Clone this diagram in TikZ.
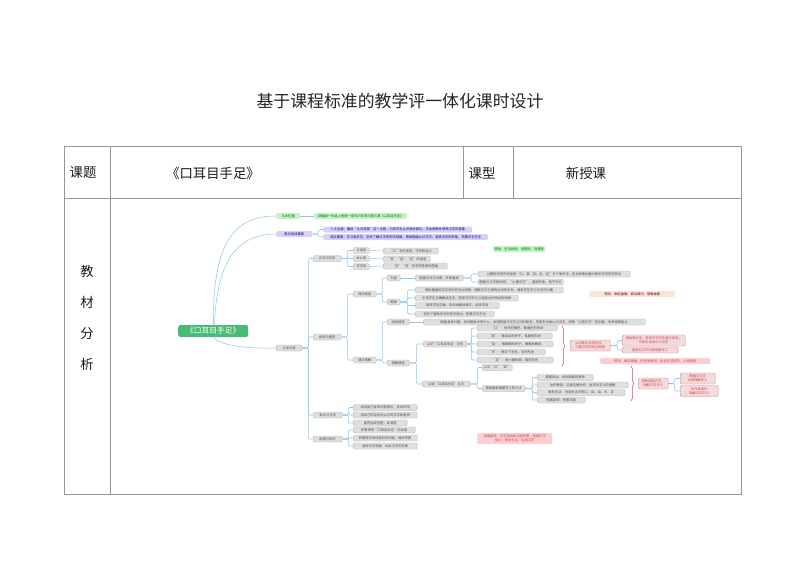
\documentclass[tikz,border=0pt]{standalone}
\usepackage{fontspec}
\setmainfont{Noto Sans CJK SC}
\usetikzlibrary{positioning,decorations.pathreplacing}
\definecolor{tablecolor}{RGB}{150,150,150}
\definecolor{linkcolor}{RGB}{142,198,238}
\definecolor{greycolor}{RGB}{223,223,223}
\definecolor{greyedge}{RGB}{176,176,176}
\definecolor{rootcolor}{RGB}{74,187,118}
\definecolor{greencolor}{RGB}{196,242,196}
\definecolor{purplecolor}{RGB}{214,209,247}
\definecolor{redcolor}{RGB}{214,66,78}
\definecolor{redfillcolor}{RGB}{241,219,220}
\definecolor{pinkcolor}{RGB}{252,207,212}
\definecolor{orangecolor}{RGB}{252,229,206}
\tikzset{
  tableln/.style={draw=tablecolor, line width=0.7pt},
  titletext/.style={font=\fontsize{14.4}{16}\selectfont, text=black!85},
  celltext/.style={font=\fontsize{11.4}{13}\selectfont, text=black!90},
  link/.style={draw=linkcolor, line width=0.45pt, rounded corners=1.2pt},
  mapnode/.style={anchor=west, rounded corners=1.2pt, inner xsep=0.5pt, inner ysep=0pt,
    minimum width=#1*0.3mm, minimum height=1.8mm, align=center,
    font=\fontsize{2.8}{3.4}\selectfont},
  greybox/.style={mapnode=#1, fill=greycolor, draw=greyedge, line width=0.3pt, text=black!70},
  rootbox/.style={mapnode=#1, fill=rootcolor, text=white, minimum height=3.6mm,
    rounded corners=2pt, font=\fontsize{6.6}{7}\selectfont},
  greenbox/.style={mapnode=#1, fill=greencolor, text=green!45!black},
  purplebox/.style={mapnode=#1, fill=purplecolor, text=blue!50!black},
  redbox/.style={mapnode=#1, fill=redfillcolor, draw=redcolor!70, line width=0.3pt, text=redcolor},
  pinkbox/.style={mapnode=#1, fill=pinkcolor, text=redcolor},
  orangebox/.style={mapnode=#1, fill=orangecolor, text=violet!70!black},
  twoline/.style={minimum height=3.3mm},
  redbrace/.style={draw=redcolor, line width=0.45pt, decorate, decoration={brace, amplitude=2.4pt}},
}
\newcommand{\mapbranch}[3]{%
  \foreach \kid in {#3} \draw[link] (#1.east) -- ++(#2,0) |- (\kid.west);
}

\begin{document}
\begin{tikzpicture}[x=0.3mm, y=-0.3mm]
  \useasboundingbox (0,0) rectangle (800,566);
  % heading and table frame
  \node[titletext] (title) at (400,101) {基于课程标准的教学评一体化课时设计};
  \draw[tableln] (64,146) rectangle (741,494);
  \draw[tableln] (64,198) -- (741,198);
  \draw[tableln] (110,146) -- (110,494);
  \draw[tableln] (463,146) -- (463,198);
  \draw[tableln] (513,146) -- (513,198);
  \node[celltext] (topiclabel) at (83,173) {课题};
  \node[celltext] (topicname) at (213,173) {《口耳目手足》};
  \node[celltext] (typelabel) at (482,173) {课型};
  \node[celltext] (typename) at (586,173) {新授课};
  \node[celltext, align=center, font=\fontsize{11.4}{26.4}\selectfont] (analysis) at (87,318) {教\\材\\分\\析};

  % mind map, first level
  \node[rootbox=70] (book) at (178,331) {《口耳目手足》};
  \node[greenbox=24] (place) at (276,216) {文本位置};
  \node[purplebox=36] (dual) at (276,234) {单元双线要素};
  \node[greybox=26] (content) at (276,348) {文本内容};
  \draw[link] (book.north) .. controls (213,245) and (232,216) .. (place.west);
  \draw[link] ([xshift=1pt]book.north) .. controls (217,262) and (236,234) .. (dual.west);
  \draw[link] (book.south) .. controls (219,345) and (245,349) .. (content.west);

  \node[greenbox=93] (placeleaf) at (314,216) {部编版一年级上册第一单元识字单元第三课《口耳目手足》};
  \draw[link] (place.east) -- (placeleaf.west);
  \node[purplebox=149] (theme) at (323,229.5) {人文主题：围绕“认识自我”这一主题，引导学生认识身体部位，学会观察并感受汉字的有趣};
  \node[purplebox=165] (skill) at (323,237) {语文要素：学习象形字，初步了解汉字的构字规律，借助图画认识汉字，感受汉字的形象，积累识字方法};
  \mapbranch{dual}{6}{theme,skill}
  \node[greenbox=52] (predict) at (493,249) {预测：生活经验、说明性、合理性};

  % text content
  \node[greybox=28] (literacy) at (313,258.5) {识字与写字};
  \node[greybox=28] (reading) at (313,337) {阅读与鉴赏};
  \node[greybox=29] (express) at (313,415) {表达与交流};
  \node[greybox=29] (explore) at (313,439) {梳理与探究};
  \mapbranch{content}{6}{literacy,reading,express,explore}

  \node[greybox=16] (lit1) at (353,250.5) {认读类};
  \node[greybox=16] (lit2) at (353,258.5) {会认类};
  \node[greybox=16] (lit3) at (353,266.5) {写字类};
  \mapbranch{literacy}{6}{lit1,lit2,lit3}
  \node[greybox=55] (lit1a) at (383,251) {“口”字的读音、字形和含义};
  \node[greybox=47] (lit2a) at (383,259) {“耳”“目”“足”的读音};
  \node[greybox=64] (lit3a) at (383,266) {“手”“足”的书写笔顺和笔画};
  \draw[link] (lit1.east) -- (lit1a.west);
  \draw[link] (lit2.east) -- (lit2a.west);
  \draw[link] (lit3.east) -- (lit3a.west);

  % reading branch
  \node[greybox=23] (recite) at (353,294) {课文朗读};
  \node[greybox=23] (grasp) at (353,360) {课文理解};
  \mapbranch{reading}{6}{recite,grasp}
  \node[greybox=13] (idea) at (387,278) {内容};
  \node[greybox=13] (voice) at (387,302) {朗读};
  \mapbranch{recite}{6}{idea,voice}
  \node[greybox=48] (idea1) at (415,278) {图画与汉字对照，形象直观};
  \draw[link] (idea.east) -- (idea1.west);
  \node[greybox=152] (idea1a) at (478,274) {以图配字的形式呈现“口、耳、目、手、足”五个象形字，生动形象地展示象形字的构字特点};
  \node[greybox=85] (idea1b) at (478,282) {图画与汉字相对照，“以图识字”，直观形象，易于识记};
  \mapbranch{idea1}{8}{idea1a,idea1b}
  \node[greybox=148] (voice1) at (415,290) {借助图画和汉字字形的对比观察，理解汉字与事物之间的关系，激发学生学习汉字的兴趣};
  \node[greybox=103] (voice2) at (415,298) {引导学生正确朗读生字，感受汉字形与义相结合的特点和规律};
  \node[greybox=84] (voice3) at (415,305.5) {指导学生正确、流利地朗读课文，读准字音};
  \node[greybox=79] (voice4) at (415,314) {初步了解象形字的构字特点，积累识字方法};
  \mapbranch{voice}{7}{voice1,voice2,voice3,voice4}
  \node[orangebox=86] (strategyA) at (589,294) {预测、联结画面、提出疑问、想象画面};

  \node[greybox=22] (feel) at (387,322) {阅读感悟};
  \node[greybox=22] (think) at (387,363) {理解感悟};
  \mapbranch{grasp}{6}{feel,think}
  \node[greybox=222] (feel1) at (423,322) {图画激发兴趣：说说图画中有什么，发现图画与汉字之间的联系，形象生动地认识汉字，感受“以图识字”的乐趣，培养观察能力};
  \draw[link] (feel.east) -- (feel1.west);
  \node[greybox=44] (shape) at (423,344) {认识“口耳目手足”字形};
  \node[greybox=48] (readchars) at (422,384) {认读“口耳目手足”五字};
  \mapbranch{think}{7}{shape,readchars}

  \node[greybox=80] (shape1) at (477,328) {“口”：张开的嘴巴，像嘴巴的形状};
  \node[greybox=75] (shape2) at (477,336) {“耳”：像耳朵的样子，耳廓的形状};
  \node[greybox=76] (shape3) at (477,344) {“目”：像眼睛的样子，眼眶和眼珠};
  \node[greybox=68] (shape4) at (477,352) {“手”：像五个手指，手的形状};
  \node[greybox=76] (shape5) at (477,360) {“足”：像小腿和脚，脚的形状};
  \mapbranch{shape}{4}{shape1,shape2,shape3,shape4,shape5}
  \coordinate (braceAtop) at (562,326);
  \coordinate (braceAbot) at (562,366);
  \draw[redbrace] (braceAtop) -- (braceAbot);
  \node[redbox=40, twoline] (rule) at (570,345.5) {认识象形字的特点，\\了解汉字的构字规律};
  \node[redbox=63, twoline] (rule1) at (622,340.5) {借助象形字，感受汉字的来源与演变，\\形象生动地认识汉字};
  \node[redbox=56] (rule2) at (622,350) {图画与汉字对照理解字义};
  \mapbranch{rule}{7}{rule1,rule2}
  \node[pinkbox=110] (strategyB) at (600,361) {预测、联结画面、抓住关键词、结合生活实际、入境悟道};

  \node[greybox=30] (rc1) at (482,367.5) {认识“口”“耳”};
  \node[greybox=43] (rc2) at (482,388.5) {借助图画理解字义的方法};
  \mapbranch{readchars}{7}{rc1,rc2}
  \node[greybox=56] (rc2a) at (537,377.5) {看图说话：说说图画的意思};
  \node[greybox=91] (rc2b) at (537,385) {动作表演：边读边做动作，加深对字义的理解};
  \node[greybox=88] (rc2c) at (537,392.5) {联系生活：说说生活中的口、耳、目、手、足};
  \node[greybox=48] (rc2d) at (537,400) {拓展延伸：积累词语};
  \mapbranch{rc2}{7}{rc2a,rc2b,rc2c,rc2d}
  \coordinate (braceBtop) at (631,366);
  \coordinate (braceBbot) at (631,401);
  \draw[redbrace] (braceBtop) -- (braceBbot);
  \node[redbox=30, twoline] (meaning) at (638,383.5) {借助图画识字，\\理解汉字字义};
  \node[redbox=35, twoline] (mean1) at (680,378.5) {图画与汉字\\对照理解字义};
  \node[redbox=38, twoline] (mean2) at (680,391) {动作表演中\\理解汉字字义};
  \mapbranch{meaning}{6}{mean1,mean2}

  % expression and exploration
  \node[greybox=64] (ex1) at (353,407.5) {说说自己身体的各部位，说出作用};
  \node[greybox=64] (ex2) at (353,415) {用自己的话说说认识的汉字和意思};
  \node[greybox=54] (ex3) at (353,423) {能把话说完整，说清楚};
  \mapbranch{express}{6}{ex1,ex2,ex3}
  \node[greybox=62] (sl1) at (353,430) {积累带有“口耳目手足”的词语};
  \node[greybox=64] (sl2) at (353,438) {积累描写身体部位的词语，做好积累};
  \node[greybox=64] (sl3) at (353,446) {发现汉字规律，体会汉字的形象};
  \mapbranch{explore}{6}{sl1,sl2,sl3}
  \node[pinkbox=75, twoline] (extend) at (477,438.5) {拓展延伸：识字游戏和词语积累，拓展识字\\能力，联系生活，运用汉字};
\end{tikzpicture}
\end{document}
